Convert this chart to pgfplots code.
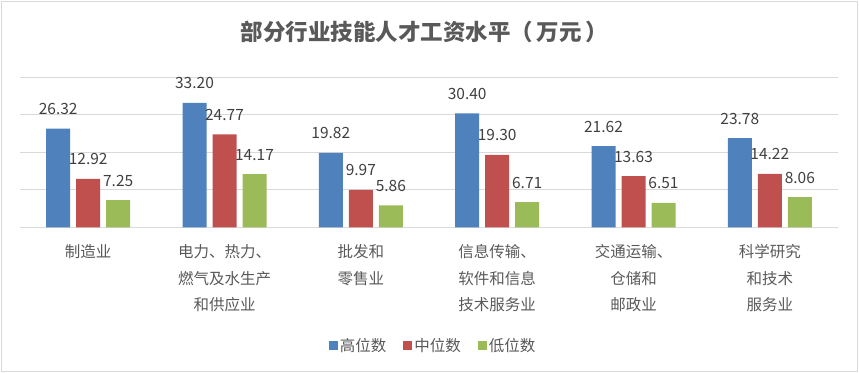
\documentclass[border=0pt]{standalone}
\usepackage{pgfplots}
\pgfplotsset{compat=1.18}
\usepackage{fontspec}
\setmainfont{Noto Sans CJK SC}
\definecolor{c1}{HTML}{4F81BD}
\definecolor{c2}{HTML}{C0504D}
\definecolor{c3}{HTML}{9BBB59}
\definecolor{txt}{HTML}{595959}
\definecolor{lbl}{HTML}{404040}
\definecolor{gridc}{HTML}{D9D9D9}
\begin{document}
\begin{tikzpicture}
\path[use as bounding box] (-20bp,-145.7bp) rectangle (839bp,227.3bp);
\begin{axis}[
 scale only axis, width=818bp, height=150bp,
 xmin=-0.5, xmax=5.5, ymin=0, ymax=40,
 ybar=6bp, bar width=24bp,
 xtick={0,...,5},
 xticklabels={制造业, {电力、热力、\\燃气及水生产\\和供应业}, {批发和\\零售业}, {信息传输、\\软件和信息\\技术服务业}, {交通运输、\\仓储和\\邮政业}, {科学研究\\和技术\\服务业}},
 ytick={0,10,20,30,40}, yticklabels={},
 ymajorgrids, grid style={gridc, line width=1bp},
 axis line style={draw=none},
 major tick length=0pt,
 xticklabel style={align=center, font=\fontsize{15.5bp}{26.5bp}\selectfont, text=txt, yshift=-14bp},
 nodes near coords={\pgfmathprintnumber[fixed,zerofill,precision=2,assume math mode=true]{\pgfplotspointmeta}},
 every node near coord/.append style={font=\fontsize{15.5bp}{18bp}\selectfont, text=lbl, anchor=base, inner sep=0pt, yshift=14bp},
 title={部分行业技能人才工资水平（\hspace{4bp}万元\hspace{4bp}）},
 title style={at={(0.4945,1.265)}, anchor=center, font=\fontsize{22.5bp}{26bp}\selectfont\bfseries, text=txt},
 legend style={at={(0.505,-0.791)}, anchor=center, draw=none, fill=none, legend columns=3, font=\fontsize{15.5bp}{18bp}\selectfont, text=txt, /tikz/every even column/.append style={column sep=15bp}},
 legend image code/.code={\fill[#1] (0bp,-4.5bp) rectangle (9bp,4.5bp);},
]
\addplot[fill=c1, draw=none] coordinates {(0,26.32) (1,33.20) (2,19.82) (3,30.40) (4,21.62) (5,23.78)};
\addplot[fill=c2, draw=none] coordinates {(0,12.92) (1,24.77) (2,9.97) (3,19.30) (4,13.63) (5,14.22)};
\addplot[fill=c3, draw=none] coordinates {(0,7.25) (1,14.17) (2,5.86) (3,6.71) (4,6.51) (5,8.06)};
\legend{高位数, 中位数, 低位数}
\end{axis}
\draw[gridc, line width=1bp] (-18.5bp,-144.2bp) rectangle (837.5bp,225.8bp);
\end{tikzpicture}
\end{document}
